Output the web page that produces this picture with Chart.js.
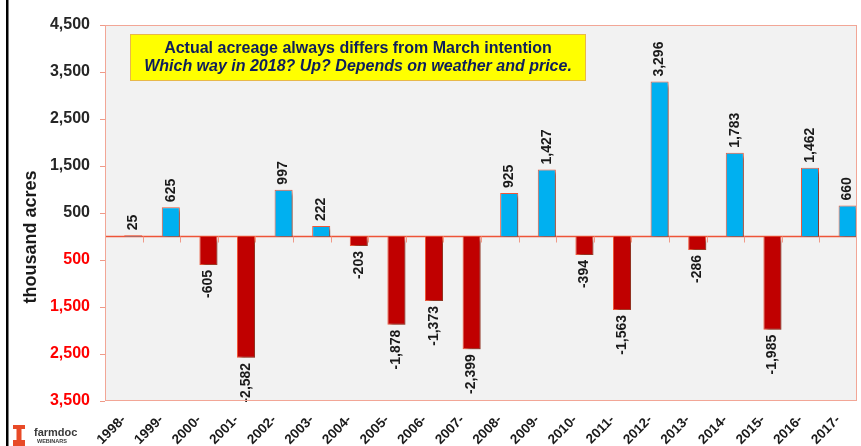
<!DOCTYPE html>
<html lang="en">
<head>
  <meta charset="UTF-8">
  <title>Actual minus March intention acreage</title>
  <style>
    body {
      margin: 0;
      background: #fff;
    }
  </style>
  <script src="https://cdn.jsdelivr.net/npm/chart.js"></script>
</head>
<body>
  <canvas id="chart" width="861" height="446"></canvas>

  <script>
    // data (thousand acres, actual minus March intention)
    const years = ['1998-', '1999-', '2000-', '2001-', '2002-', '2003-', '2004-', '2005-', '2006-', '2007-',
      '2008-', '2009-', '2010-', '2011-', '2012-', '2013-', '2014-', '2015-', '2016-', '2017-'];
    const changes = [25, 625, -605, -2582, 997, 222, -203, -1878, -1373, -2399,
      925, 1427, -394, -1563, 3296, -286, 1783, -1985, 1462, 660];
    const yMin = -3500;
    const yMax = 4500;
    const yStep = 1000;
    const yTitle = 'thousand acres';
    const noteLines = ['Actual acreage always differs from March intention',
      'Which way in 2018? Up? Depends on weather and price.'];

    const FONT = "'Liberation Sans', Arial, sans-serif";
    const fmt = v => Math.abs(v).toLocaleString('en-US');
    const signed = v => (v < 0 ? '-' : '') + fmt(v);

    // background + frame + zero line + labels, all drawn around the bars
    const decor = {
      id: 'decor',
      beforeDraw(chart) {
        const { ctx, chartArea: a } = chart;
        ctx.save();
        ctx.fillStyle = '#fff';
        ctx.fillRect(0, 0, chart.width, chart.height);
        ctx.fillStyle = '#F2F2F2';
        ctx.fillRect(a.left, a.top, a.right - a.left, a.bottom - a.top);
        ctx.restore();
      },
      beforeDatasetsDraw(chart) {
        const { ctx, chartArea: a, scales } = chart;
        const y0 = scales.y.getPixelForValue(0);
        ctx.save();
        ctx.strokeStyle = '#EE5538';
        ctx.lineWidth = 1.5;
        ctx.beginPath();
        ctx.moveTo(a.left, y0);
        ctx.lineTo(a.right, y0);
        ctx.stroke();
        // small tick marks under the zero line, between categories
        ctx.strokeStyle = '#F09A88';
        ctx.lineWidth = 1;
        const w = (a.right - a.left) / years.length;
        for (let i = 1; i < years.length; i++) {
          const x = Math.round(a.left + i * w) + 0.5;
          ctx.beginPath();
          ctx.moveTo(x, y0);
          ctx.lineTo(x, y0 + 6);
          ctx.stroke();
        }
        ctx.restore();
        // drop shadow for the bars
        ctx.save();
        ctx.shadowColor = 'rgba(0,0,0,0.4)';
        ctx.shadowOffsetX = 3;
        ctx.shadowOffsetY = 3;
        ctx.shadowBlur = 3;
      },
      afterDatasetsDraw(chart) {
        const { ctx } = chart;
        ctx.restore();
        const meta = chart.getDatasetMeta(1);
        ctx.save();
        ctx.fillStyle = '#1a1a1a';
        ctx.font = 'bold 14px ' + FONT;
        ctx.textBaseline = 'middle';
        meta.data.forEach((bar, i) => {
          const v = changes[i];
          ctx.save();
          if (v >= 0) {
            ctx.translate(bar.x, bar.y - 5);
            ctx.rotate(-Math.PI / 2);
            ctx.textAlign = 'left';
          } else {
            ctx.translate(bar.x, bar.y + 5);
            ctx.rotate(-Math.PI / 2);
            ctx.textAlign = 'right';
          }
          ctx.fillText(signed(v), 0, 0);
          ctx.restore();
        });
        ctx.restore();
      },
      afterDraw(chart) {
        const { ctx, chartArea: a } = chart;
        ctx.save();
        // plot frame
        ctx.strokeStyle = '#F2A696';
        ctx.lineWidth = 1;
        ctx.strokeRect(a.left + 0.5, a.top + 0.5, a.right - a.left - 1, a.bottom - a.top - 1);

        // slide edge line on the left
        ctx.fillStyle = '#000';
        ctx.fillRect(6, 0, 2.5, chart.height);

        // axis title
        ctx.save();
        ctx.translate(31, 237);
        ctx.rotate(-Math.PI / 2);
        ctx.fillStyle = '#1a1a1a';
        ctx.font = 'bold 18px ' + FONT;
        ctx.textAlign = 'center';
        ctx.textBaseline = 'middle';
        ctx.fillText(yTitle, 0, 0);
        ctx.restore();

        // yellow note box
        ctx.fillStyle = '#FFFF00';
        ctx.fillRect(130, 34, 455, 46);
        ctx.strokeStyle = '#E8B84A';
        ctx.strokeRect(130.5, 34.5, 455, 46);
        ctx.fillStyle = '#0E1E5B';
        ctx.textAlign = 'center';
        ctx.textBaseline = 'middle';
        ctx.font = 'bold 16px ' + FONT;
        ctx.fillText(noteLines[0], 358, 49);
        ctx.font = 'italic bold 16px ' + FONT;
        ctx.fillText(noteLines[1], 358, 67);

        // farmdoc logo
        ctx.fillStyle = '#E84A27';
        ctx.fillRect(13, 425, 12, 4);
        ctx.fillRect(16.5, 425, 5, 21);
        ctx.fillRect(13, 440, 12, 6);
        ctx.fillStyle = '#3a3a3a';
        ctx.textAlign = 'left';
        ctx.textBaseline = 'alphabetic';
        ctx.font = 'bold 11px ' + FONT;
        ctx.fillText('farmdoc', 34, 436);
        ctx.font = 'bold 5.5px ' + FONT;
        ctx.fillText('WEBINARS', 37, 443);
        ctx.restore();
      }
    };

    new Chart(document.getElementById('chart'), {
      type: 'bar',
      data: {
        labels: years,
        datasets: [{
          // empty slot: the slide's bars sit in the right half of each category
          label: '',
          data: changes.map(() => null)
        }, {
          label: 'Actual - March intention',
          data: changes,
          backgroundColor: changes.map(v => v >= 0 ? '#00B0F0' : '#C00000'),
          borderColor: '#F0583A',
          borderWidth: 1
        }]
      },
      options: {
        responsive: false,
        animation: false,
        devicePixelRatio: 1,
        categoryPercentage: 1,
        barPercentage: 0.96,
        layout: { padding: { top: 25, right: 4, left: 0, bottom: 0 } },
        plugins: {
          legend: { display: false },
          tooltip: { enabled: false }
        },
        scales: {
          x: {
            afterFit(scale) { scale.height = 45; },
            grid: { display: false },
            border: { display: false },
            ticks: {
              minRotation: 45,
              maxRotation: 45,
              autoSkip: false,
              padding: 3,
              color: '#1a1a1a',
              font: { family: FONT, size: 13.5, weight: 'bold' }
            }
          },
          y: {
            min: yMin,
            max: yMax,
            afterFit(scale) { scale.width = 105; },
            grid: { drawOnChartArea: false, drawTicks: true, tickLength: 5, color: '#F09A88' },
            border: { display: false },
            ticks: {
              stepSize: yStep,
              padding: 10,
              callback: v => fmt(v),
              color: ctx => ctx.tick.value < 0 ? '#FF0000' : '#262626',
              font: { family: FONT, size: 16, weight: 'bold' }
            }
          }
        }
      },
      plugins: [decor]
    });
  </script>
</body>
</html>
